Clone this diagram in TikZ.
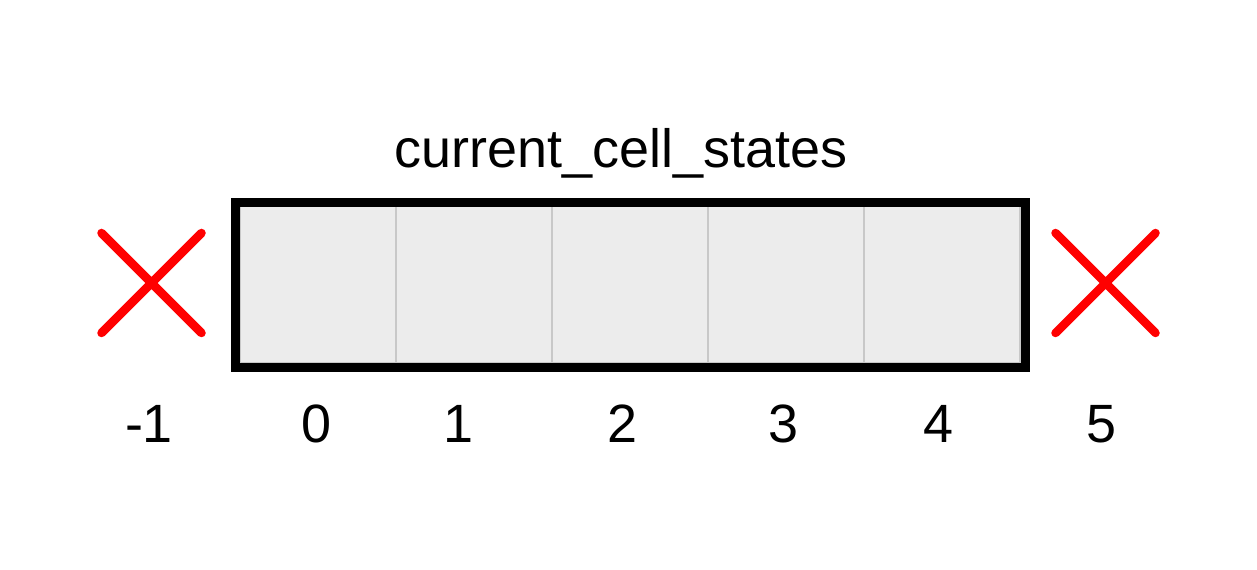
\documentclass[tikz,border=0pt]{standalone}
\usepackage{fontspec}
\setmainfont{Liberation Sans}
\usetikzlibrary{calc, positioning}

\definecolor{cellgray}{HTML}{ECECEC}
\definecolor{cellline}{HTML}{C8C8C8}

\begin{document}
\begin{tikzpicture}[x=0.02cm, y=-0.02cm,
    cellbox/.style={draw=cellline, fill=cellgray, line width=0.03cm,
        minimum width=3.12cm, minimum height=3.14cm, inner sep=0pt, outer sep=0pt},
    crossmark/.style={draw=red, line width=0.17cm, line cap=round},
    idxlabel/.style={anchor=base, inner sep=0pt, font=\fontsize{30.7}{36}\selectfont}]
    \useasboundingbox (0,0) rectangle (1257,570);

    % --- 1. five cells, side by side ---
    \node[cellbox] (cell0) at (318,284.5) {};
    \foreach \i [count=\j from 1] in {0,...,3}
        \node[cellbox, right=0pt of cell\i] (cell\j) {};

    % --- 2. black frame round the cells ---
    \draw[line width=0.18cm]
        ($(cell0.north west)+(-4.5,-4)$) rectangle ($(cell4.south east)+(5.5,4.5)$);

    % --- 3. title ---
    \node[idxlabel] (title) at (621,168) {current\_cell\_states};

    % --- 4. indices below ---
    \foreach \n/\x in {-1/149, 0/316, 1/458, 2/622, 3/783, 4/938, 5/1101}
        \node[idxlabel] (idx\n) at (\x,442) {\n};

    % --- 5. out-of-range crosses ---
    \foreach \cx in {151.5, 1105.5}
        \draw[crossmark] (\cx-50,233) -- (\cx+50,333) (\cx-50,333) -- (\cx+50,233);

\end{tikzpicture}
\end{document}
